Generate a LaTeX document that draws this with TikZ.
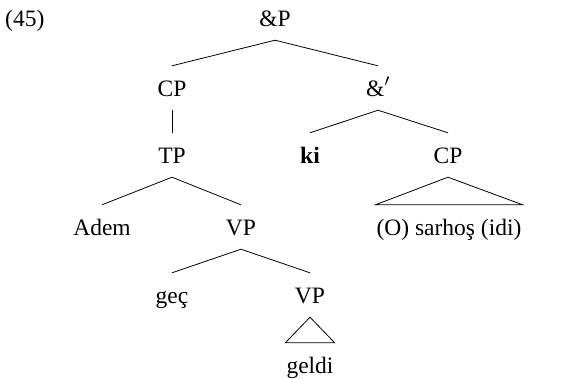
\documentclass[tikz,border=0pt]{standalone}
\usepackage{fontspec}
\setmainfont{Liberation Serif}
\tikzset{
	lbl/.style={font=\fontsize{23.5}{28}\selectfont, text height=16pt, text depth=0pt, inner ysep=14pt, inner xsep=1pt},
	branch/.style={line width=.8pt}
}
\begin{document}
\begin{tikzpicture}[x=1pt, y=-1pt]
	\useasboundingbox (0, 0) rectangle (573, 378);
		\node[lbl, anchor=west] (ex) at(4, 18){(45)};
		\node[lbl] (andP) at(275, 18){\&P};
			\node[lbl] (cpA) at(172, 88){CP};
			\node[lbl] (andbar) at(378, 88){\&$'$};
		\node[lbl] (tp) at(172, 155){TP};
		\node[lbl] (ki) at(310, 155){\textbf{ki}};
		\node[lbl] (cpB) at(448, 155){CP};
			\node[lbl] (adem) at(102, 227){Adem};
			\node[lbl] (vpA) at(241, 227){VP};
			\node[lbl] (sarhos) at(449, 227){(O) sarhoş (idi)};
		\node[lbl] (gec) at(172, 295){geç};
		\node[lbl] (vpB) at(310, 295){VP};
			\node[lbl] (geldi) at(310, 365){geldi};

		\draw[branch](andP.south) to (cpA.north);
		\draw[branch](andP.south) to (andbar.north);
		\draw[branch](cpA.south) to (tp.north);
		\draw[branch](andbar.south) to (ki.north);
		\draw[branch](andbar.south) to (cpB.north);
		\draw[branch](tp.south) to (adem.north);
		\draw[branch](tp.south) to (vpA.north);
		\draw[branch](cpB.south) -- (sarhos.north east) -- (sarhos.north west) -- cycle;
		\draw[branch](vpA.south) to (gec.north);
		\draw[branch](vpA.south) to (vpB.north);
		\draw[branch](vpB.south) -- (geldi.north east) -- (geldi.north west) -- cycle;
	\end{tikzpicture}
\end{document}
